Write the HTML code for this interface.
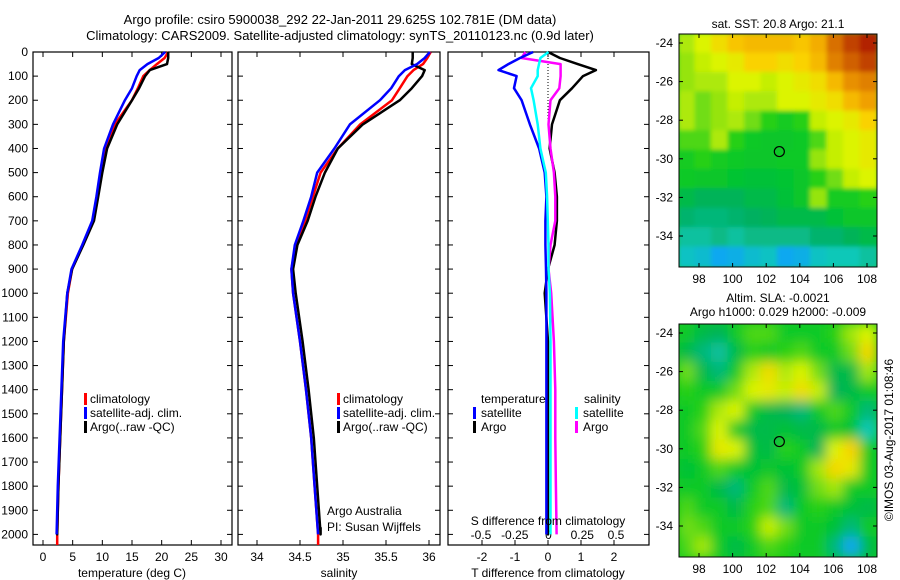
<!DOCTYPE html>
<html><head><meta charset="utf-8"><style>
body{margin:0;background:#fff;}
svg{display:block;font-family:"Liberation Sans",sans-serif;font-size:12px;}
</style></head><body>
<svg id="c" width="900" height="580" viewBox="0 0 900 580">
<text x="340" y="24" text-anchor="middle" font-size="13">Argo profile: csiro 5900038_292 22-Jan-2011 29.625S 102.781E (DM data)</text>
<text x="340" y="40" text-anchor="middle" font-size="13">Climatology: CARS2009. Satellite-adjusted climatology: synTS_20110123.nc (0.9d later)</text>
<text x="778" y="28" text-anchor="middle">sat. SST: 20.8 Argo: 21.1</text>
<text x="778" y="302" text-anchor="middle">Altim. SLA: -0.0021</text>
<text x="778" y="316" text-anchor="middle">Argo h1000: 0.029 h2000: -0.009</text>
<text transform="translate(893,440) rotate(-90)" text-anchor="middle">©IMOS 03-Aug-2017 01:08:46</text>
<g id="g"></g>
</svg>
<script>
// ---- data ----
const depth=[0,25,50,75,100,150,200,300,400,500,600,700,800,900,1000,1200,1400,1600,1800,2000];
const tClim=[21.1,20.5,19.2,18,16.9,16,15,12.1,10.6,9.9,9.1,8.4,6.7,4.9,4.2,3.5,3.2,2.9,2.6,2.4];
const tSat=[20.6,19.5,17.6,16.3,15.8,15,13.8,11.8,10.3,9.6,9.0,8.3,6.6,4.8,4.1,3.4,3.1,2.8,2.5,2.3];
const tArgo=[21.1,21.1,20.9,18,17.2,16.2,15,12.5,10.8,10,9.3,8.6,6.8,4.9,4.1,3.5,3.2,2.9,2.6,2.4];
const sClim=[36.02,35.98,35.93,35.82,35.75,35.66,35.57,35.2,34.94,34.74,34.65,34.56,34.45,34.4,34.42,34.5,34.57,34.63,34.67,34.71];
const sSat=[36.01,35.95,35.86,35.72,35.65,35.56,35.43,35.08,34.9,34.7,34.63,34.54,34.44,34.4,34.42,34.5,34.57,34.63,34.67,34.71];
const sArgo=[35.81,35.81,35.8,35.95,35.92,35.8,35.66,35.23,34.94,34.79,34.68,34.59,34.47,34.42,34.45,34.53,34.6,34.66,34.7,34.74];
const dTSat=[-0.45,-0.85,-1.2,-1.5,-0.95,-1.03,-0.8,-0.55,-0.27,-0.1,-0.05,-0.08,-0.08,-0.06,-0.05,-0.05,-0.05,-0.05,-0.05,-0.05];
const dTArgo=[0,0.36,0.9,1.45,1.06,0.73,0.36,0.12,0.05,0.2,0.27,0.27,0.2,0,-0.1,0,0,0,0,0];
const dSSat=[0,-0.06,-0.07,-0.08,-0.08,-0.13,-0.11,-0.08,-0.06,-0.02,-0.01,-0.005,0,0,0.01,0.015,0.015,0.015,0.015,0.015];
const dSArgo=[-0.17,-0.2,0.09,0.09,0.09,0.08,0.015,0,0.015,0.04,0.05,0.05,0.015,0,0.02,0.04,0.05,0.05,0.055,0.06];
const depthTicks=[0,100,200,300,400,500,600,700,800,900,1000,1100,1200,1300,1400,1500,1600,1700,1800,1900,2000];
const tTicks=[0,5,10,15,20,25,30];
const sTicks=[34,34.5,35,35.5,36];
const sTickLabels=["34","34.5","35","35.5","36"];
const dTTicks=[-2,-1,0,1,2];
const dSTicks=[-0.5,-0.25,0,0.25,0.5];
const lonTicks=[98,100,102,104,106,108];
const latTicks=[-24,-26,-28,-30,-32,-34];
const sstGrid=[
[.66,.7,.74,.78,.8,.8,.8,.78,.82,.9,.95,.98],
[.64,.68,.7,.72,.76,.76,.74,.76,.8,.88,.92,.95],
[.64,.66,.66,.7,.7,.68,.7,.72,.74,.8,.86,.88],
[.66,.62,.64,.68,.66,.66,.7,.7,.72,.74,.8,.84],
[.66,.62,.64,.66,.62,.58,.56,.58,.68,.7,.72,.76],
[.6,.6,.66,.58,.55,.54,.54,.55,.6,.68,.7,.72],
[.56,.58,.56,.55,.54,.54,.55,.55,.64,.68,.7,.72],
[.55,.54,.54,.53,.52,.52,.53,.54,.58,.62,.68,.7],
[.5,.48,.48,.48,.5,.5,.52,.54,.64,.56,.56,.58],
[.46,.45,.45,.46,.47,.48,.5,.5,.5,.52,.54,.54],
[.42,.42,.44,.42,.44,.44,.44,.44,.46,.46,.48,.5],
[.38,.36,.3,.32,.36,.38,.3,.32,.38,.4,.4,.42]];
const slaGrid=[
[.55,.5,.48,.55,.6,.6,.55,.55,.55,.58,.65,.7],
[.5,.45,.42,.5,.58,.55,.58,.6,.55,.55,.62,.75],
[.62,.5,.45,.55,.66,.74,.66,.7,.62,.5,.5,.65],
[.58,.55,.55,.62,.7,.72,.68,.74,.68,.48,.5,.55],
[.55,.58,.66,.7,.55,.5,.48,.45,.55,.6,.55,.45],
[.55,.6,.7,.55,.5,.5,.52,.5,.5,.55,.52,.4],
[.55,.58,.72,.7,.52,.5,.58,.55,.48,.7,.76,.55],
[.52,.55,.6,.55,.52,.54,.52,.55,.65,.75,.72,.55],
[.55,.55,.5,.45,.55,.6,.5,.52,.62,.65,.55,.55],
[.6,.55,.55,.5,.58,.6,.45,.55,.58,.55,.52,.5],
[.62,.6,.55,.55,.58,.68,.62,.55,.55,.52,.45,.55],
[.6,.65,.55,.5,.55,.6,.58,.55,.55,.45,.3,.5]];
const argoLon=102.781, argoLat=-29.625;

const NS="http://www.w3.org/2000/svg";
const G=document.getElementById('g');
function el(t,a,p){const e=document.createElementNS(NS,t);for(const k in a)e.setAttribute(k,a[k]);(p||G).appendChild(e);return e;}
const Y0=52,Y1=545,DMAX=(545-52)/0.2412;
const yD=d=>Y0+d*0.2412;
function lin(d0,d1,r0,r1){return v=>r0+(v-d0)*(r1-r0)/(d1-d0);}

function frame(x0,x1,name){
  const f=el('rect',{x:x0,y:Y0,width:x1-x0,height:Y1-Y0,fill:'none',stroke:'#000','stroke-width':1.2});
  
  
  depthTicks.forEach(d=>{const y=yD(d);
    el('line',{x1:x0,x2:x0+5,y1:y,y2:y,stroke:'#000'});
    el('line',{x1:x1-5,x2:x1,y1:y,y2:y,stroke:'#000'});});
}
function xticks(x0,x1,ticks,sx,labels,ly,name,top){
  ticks.forEach((t,i)=>{const x=sx(t);
    if(top!==false) el('line',{x1:x,x2:x,y1:Y0,y2:Y0+5,stroke:'#000'});
    el('line',{x1:x,x2:x,y1:Y1-5,y2:Y1,stroke:'#000'});
    if(labels){const tx=el('text',{x:x,y:ly,'text-anchor':'middle'});tx.textContent=labels[i];
      
      }});
}
function line(xs,sx,col,name,maxD,w){
  let pts=xs.map((v,i)=>sx(v).toFixed(1)+','+yD(depth[i]).toFixed(1));
  if(maxD) pts.push(sx(xs[xs.length-1]).toFixed(1)+','+yD(maxD).toFixed(1));
  const p=el('polyline',{points:pts.join(' '),fill:'none',stroke:col,'stroke-width':w||2.5,'stroke-linejoin':'round'});
  
  
}
function txt(x,y,s,name,anchor){const t=el('text',{x:x,y:y,'text-anchor':anchor||'start'});t.textContent=s;
  
  return t;}
function bar(x,y,col,name){const r=el('rect',{x:x,y:y-10,width:3,height:12,fill:col});
  
  }

depthTicks.forEach(d=>{txt(28,yD(d)+4,String(d),'depth-tick-label','end');});

// panel 1 temperature
const sxT=lin(0,30,43,221);
frame(33,232,'temperature-panel');
xticks(33,232,tTicks,sxT,tTicks.map(String),561,'temperature');
line(tClim,sxT,'#f00','temp-climatology-line',DMAX);
line(tArgo,sxT,'#000','temp-argo-line',1970);
line(tSat,sxT,'#00f','temp-satellite-line',2000);
txt(132,577,'temperature (deg C)','temperature-axis-title','middle');
bar(84,403,'#f00','legend-climatology-swatch');txt(90,403,'climatology','legend-climatology');
bar(84,417,'#00f','legend-satellite-swatch');txt(90,417,'satellite-adj. clim.','legend-satellite');
bar(84,431,'#000','legend-argo-swatch');txt(90,431,'Argo(..raw -QC)','legend-argo');

// panel 2 salinity
const sxS=lin(34,36,257,429);
frame(238,440,'salinity-panel');
xticks(238,440,sTicks,sxS,sTickLabels,561,'salinity');
line(sClim,sxS,'#f00','sal-climatology-line',DMAX);
line(sArgo,sxS,'#000','sal-argo-line',1970);
line(sSat,sxS,'#00f','sal-satellite-line',2000);
txt(339,577,'salinity','salinity-axis-title','middle');
bar(337,403,'#f00','legend2-climatology-swatch');txt(343,403,'climatology','legend2-climatology');
bar(337,417,'#00f','legend2-satellite-swatch');txt(343,417,'satellite-adj. clim.','legend2-satellite');
bar(337,431,'#000','legend2-argo-swatch');txt(343,431,'Argo(..raw -QC)','legend2-argo');
txt(327,515,'Argo Australia','argo-australia-label');
txt(327,531,'PI: Susan Wijffels','pi-label');

// panel 3 differences
const sxDT=lin(-2,2,482,614), sxDS=lin(-0.5,0.5,481,616);
frame(448,649,'difference-panel');
xticks(448,649,dTTicks,sxDT,dTTicks.map(String),561,'tdiff');
dSTicks.forEach(t=>{txt(sxDS(t),539,String(t),'sdiff-tick-label','middle');});
el('line',{x1:548,x2:548,y1:Y0,y2:120,stroke:'#000','stroke-dasharray':'1,2'});
line(dTArgo,sxDT,'#000','tdiff-argo-line',1950);
line(dSArgo,sxDS,'#f0f','sdiff-argo-line',2000);
line(dTSat,sxDT,'#00f','tdiff-satellite-line',2000);
line(dSSat,sxDS,'#0ff','sdiff-satellite-line',2000);
txt(548,525,'S difference from climatology','sdiff-axis-title','middle');
txt(548,577,'T difference from climatology','tdiff-axis-title','middle');
txt(481,403,'temperature','legend3-temperature-head');
txt(584,403,'salinity','legend3-salinity-head');
bar(473,417,'#00f','legend3-tsat-swatch');txt(481,417,'satellite','legend3-tsat');
bar(473,431,'#000','legend3-targo-swatch');txt(481,431,'Argo','legend3-targo');
bar(575,417,'#0ff','legend3-ssat-swatch');txt(583,417,'satellite','legend3-ssat');
bar(575,431,'#f0f','legend3-sargo-swatch');txt(583,431,'Argo','legend3-sargo');

// maps
const stops=[[0.2,[26,79,224]],[0.3,[16,168,240]],[0.4,[16,200,184]],[0.47,[0,176,96]],[0.53,[0,196,48]],[0.58,[40,208,24]],[0.64,[150,228,16]],[0.7,[220,244,0]],[0.76,[250,210,0]],[0.84,[240,160,0]],[0.92,[208,96,0]],[1,[168,16,0]]];
function cmap(v){for(let i=1;i<stops.length;i++){if(v<=stops[i][0]){const a=stops[i-1],b=stops[i];const f=Math.max(0,(v-a[0])/(b[0]-a[0]));
  return 'rgb('+a[1].map((c,k)=>Math.round(c+(b[1][k]-c)*f)).join(',')+')';}}return 'rgb(168,16,0)';}
const defs=el('defs',{});
function map(grid,top,bot,lat24,lat34,name,blur){
  const x0=679,x1=877,sx=lin(98,108,699,867),sy=lin(-24,-34,lat24,lat34);
  const cp=el('clipPath',{id:'cp'+name},defs);el('rect',{x:x0,y:top,width:x1-x0,height:bot-top},cp);
  const f=el('filter',{id:'bl'+name,x:'-10%',y:'-10%',width:'120%',height:'120%'},defs);el('feGaussianBlur',{stdDeviation:blur},f);
  const g1=el('g',{'clip-path':'url(#cp'+name+')'});
  
  
  el('rect',{x:x0,y:top,width:x1-x0,height:bot-top,fill:cmap(0.55)},g1);
  const g=el('g',{filter:'url(#bl'+name+')'},g1);
  const nr=grid.length,nc=grid[0].length,cw=(x1-x0)/nc,ch=(bot-top)/nr;
  grid.forEach((row,r)=>row.forEach((v,c)=>{const rc=el('rect',{x:x0+c*cw-1,y:top+r*ch-1,width:cw+2,height:ch+2,fill:cmap(v)},g);
    
    }));
  el('rect',{x:x0,y:top,width:x1-x0,height:bot-top,fill:'none',stroke:'#000'});
  lonTicks.forEach(l=>{const x=sx(l);el('line',{x1:x,x2:x,y1:top,y2:top+4,stroke:'#000'});el('line',{x1:x,x2:x,y1:bot-4,y2:bot,stroke:'#000'});
    txt(x,bot+16,String(l),name+'-lon-label','middle');});
  latTicks.forEach(l=>{const y=sy(l);el('line',{x1:x0,x2:x0+4,y1:y,y2:y,stroke:'#000'});el('line',{x1:x1-4,x2:x1,y1:y,y2:y,stroke:'#000'});
    txt(x0-6,y+4,String(l),name+'-lat-label','end');});
  const c=el('circle',{cx:sx(argoLon),cy:sy(argoLat),r:5,fill:'none',stroke:'#000','stroke-width':1.2});
  
  
}
map(sstGrid,34,267,43,236,'sst',2);
map(slaGrid,324,557,333,526,'sla',6);
</script>
</body></html>
